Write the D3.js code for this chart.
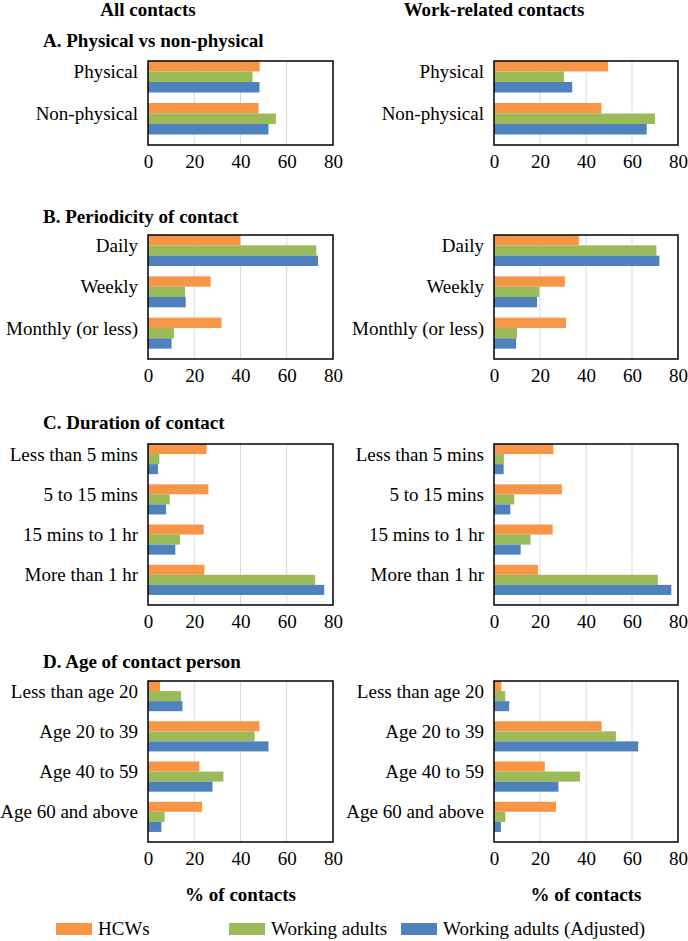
<!DOCTYPE html>
<html>
<head>
<meta charset="utf-8">
<script src="https://cdn.jsdelivr.net/npm/d3@7"></script>
<style>
  body { margin: 0; background: #fff; }
  svg text { font-family: "Liberation Serif", "Times New Roman", serif; fill: #000; }
</style>
</head>
<body>
<div id="chart"></div>
<script>
// series + colours (Excel default-ish)
var seriesNames = ["HCWs", "Working adults", "Working adults (Adjusted)"];
var seriesColors = ["#F79646", "#9BBB59", "#4F81BD"];
var xTicks = [0, 20, 40, 60, 80];

// categories per panel
var catsA = ["Physical", "Non-physical"];
var catsB = ["Daily", "Weekly", "Monthly (or less)"];
var catsC = ["Less than 5 mins", "5 to 15 mins", "15 mins to 1 hr", "More than 1 hr"];
var catsD = ["Less than age 20", "Age 20 to 39", "Age 40 to 59", "Age 60 and above"];

// values: one row per category -> [HCWs, Working adults, Working adults (Adjusted)]
var allA = [[48.3, 45.2, 48.2], [47.8, 55.3, 52.1]];
var workA = [[49.6, 30.4, 34.0], [46.7, 70.0, 66.4]];

var allB = [[39.9, 72.8, 73.5], [27.1, 16.0, 16.3], [31.8, 11.2, 10.2]];
var workB = [[36.9, 70.6, 71.9], [30.8, 19.7, 18.7], [31.3, 10.0, 9.6]];

var allC = [[25.3, 4.9, 4.3], [26.1, 9.4, 7.8], [24.1, 13.9, 11.8], [24.4, 72.3, 76.2]];
var workC = [[25.8, 4.3, 4.2], [29.5, 8.8, 7.1], [25.5, 15.9, 11.6], [19.1, 71.2, 77.1]];

var allD = [[5.2, 14.3, 14.9], [48.2, 46.1, 52.1], [22.2, 32.6, 27.9], [23.4, 7.2, 5.8]];
var workD = [[3.2, 4.9, 6.6], [46.8, 53.0, 62.7], [22.1, 37.4, 28.0], [27.0, 4.9, 3.0]];

var W = 688, H = 941;
var cols = [{x0: 148, x1: 333, head: "All contacts"}, {x0: 494, x1: 678, head: "Work-related contacts"}];

var panels = [
    {title: "A. Physical vs non-physical", cats: catsA, data: [allA, workA], top: 61, bottom: 145, titleY: 47},
    {title: "B. Periodicity of contact", cats: catsB, data: [allB, workB], top: 235, bottom: 359, titleY: 223},
    {title: "C. Duration of contact", cats: catsC, data: [allC, workC], top: 444, bottom: 605, titleY: 429},
    {title: "D. Age of contact person", cats: catsD, data: [allD, workD], top: 681, bottom: 842, titleY: 668}
];

var svg = d3.select("#chart").append("svg")
    .attr("width", W)
    .attr("height", H);

// column headers
cols.forEach(function(c) {
    svg.append("text")
        .attr("x", c.x0)
        .attr("y", 16)
        .attr("text-anchor", "middle")
        .style("font-size", "19px")
        .style("font-weight", "bold")
        .text(c.head);
});

panels.forEach(function(p) {
    svg.append("text")
        .attr("x", 43)
        .attr("y", p.titleY)
        .style("font-size", "19px")
        .style("font-weight", "bold")
        .text(p.title);

    cols.forEach(function(c, ci) {
        var x = d3.scaleLinear().domain([0, 80]).range([c.x0, c.x1]);
        var y = d3.scaleBand().domain(p.cats).range([p.top, p.bottom])
            .paddingInner(0.25).paddingOuter(0.125).align(0);
        var ys = d3.scaleBand().domain(d3.range(seriesNames.length)).range([0, y.bandwidth()]);

        var g = svg.append("g");

        // gridlines
        g.selectAll("line.grid")
            .data([20, 40, 60])
            .enter().append("line")
            .attr("x1", d => x(d)).attr("x2", d => x(d))
            .attr("y1", p.top).attr("y2", p.bottom)
            .attr("stroke", "#d9d9d9")
            .attr("stroke-width", 1);

        // bars
        var rows = g.selectAll("g.cat")
            .data(p.data[ci])
            .enter().append("g")
            .attr("transform", (d, i) => "translate(0," + y(p.cats[i]) + ")");

        rows.selectAll("rect")
            .data(d => d)
            .enter().append("rect")
            .attr("x", x(0))
            .attr("y", (d, i) => ys(i))
            .attr("width", d => x(d) - x(0))
            .attr("height", ys.bandwidth())
            .attr("fill", (d, i) => seriesColors[i]);

        // frame
        g.append("rect")
            .attr("x", c.x0).attr("y", p.top)
            .attr("width", c.x1 - c.x0).attr("height", p.bottom - p.top)
            .attr("fill", "none")
            .attr("stroke", "#000")
            .attr("stroke-width", 1.5);

        // category labels
        g.selectAll("text.cat")
            .data(p.cats)
            .enter().append("text")
            .attr("x", c.x0 - 10)
            .attr("y", d => y(d) + y.bandwidth() / 2 - 5)
            .attr("dy", "0.35em")
            .attr("text-anchor", "end")
            .style("font-size", "19px")
            .text(d => d);

        // x axis
        var ax = g.append("g")
            .attr("transform", "translate(0," + p.bottom + ")")
            .call(d3.axisBottom(x).tickValues(xTicks).tickSize(0).tickPadding(9.5));
        ax.select(".domain").remove();
        ax.selectAll("text")
            .style("font-family", "'Liberation Serif', serif")
            .style("font-size", "19px")
            .attr("fill", "#000");
    });
});

// axis titles
cols.forEach(function(c) {
    svg.append("text")
        .attr("x", (c.x0 + c.x1) / 2)
        .attr("y", 901)
        .attr("text-anchor", "middle")
        .style("font-size", "19px")
        .style("font-weight", "bold")
        .text("% of contacts");
});

// legend
var legX = [56, 229, 401];
var leg = svg.append("g").selectAll("g")
    .data(seriesNames)
    .enter().append("g")
    .attr("transform", (d, i) => "translate(" + legX[i] + ",923)");
leg.append("rect")
    .attr("width", 36).attr("height", 12)
    .attr("fill", (d, i) => seriesColors[i]);
leg.append("text")
    .attr("x", 42).attr("y", 12)
    .style("font-size", "19px")
    .text(d => d);
</script>
</body>
</html>
